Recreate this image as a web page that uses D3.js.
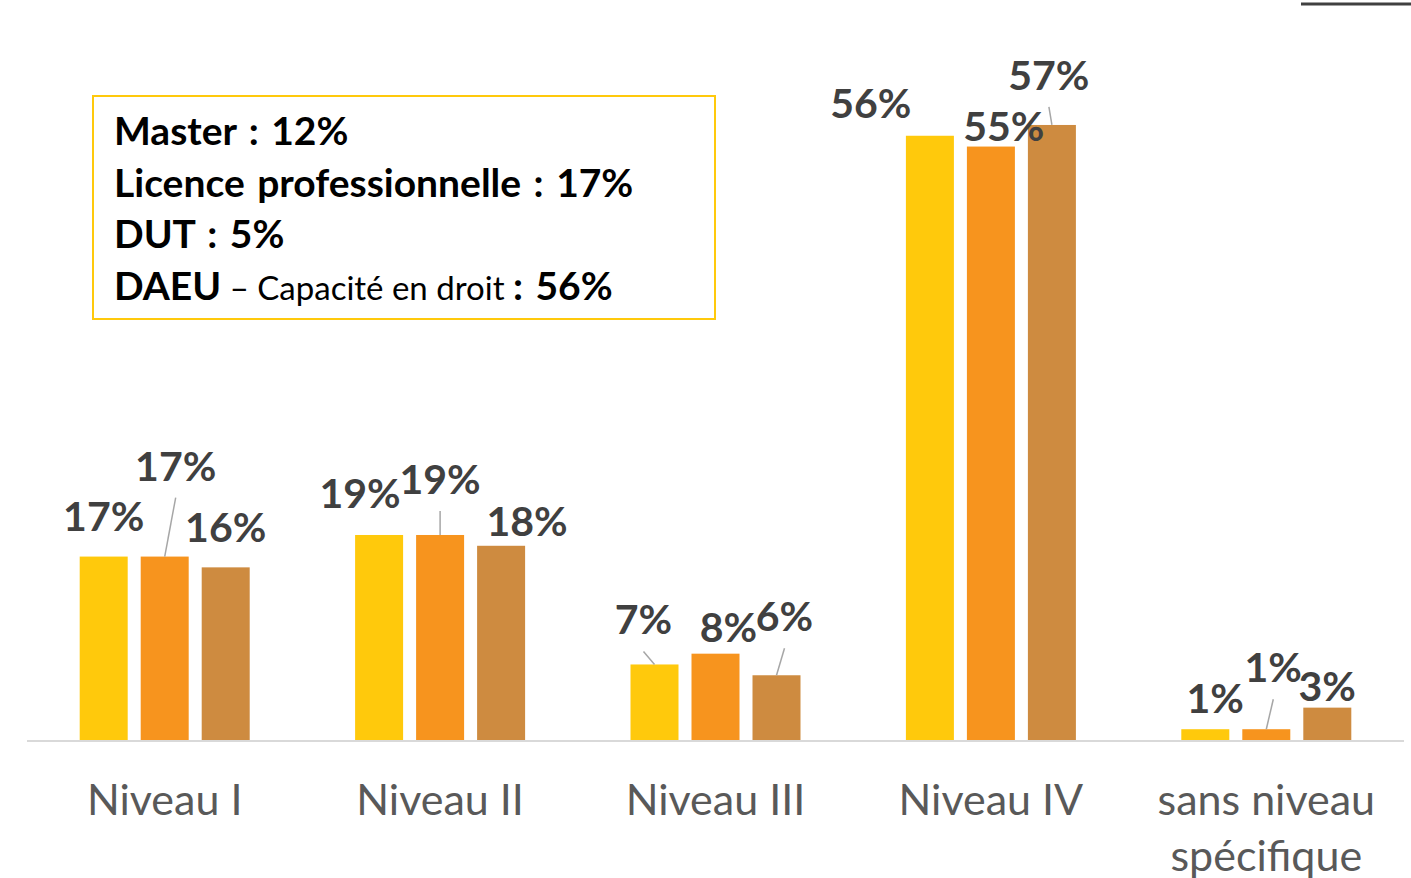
<!DOCTYPE html>
<html>
<head>
<meta charset="utf-8">
<script src="https://d3js.org/d3.v7.min.js"></script>
<style>
  body { margin: 0; background: #fff; overflow: hidden; }
  svg { display: block; font-family: Lato, "Open Sans", sans-serif; }
</style>
</head>
<body>
<svg width="1411" height="878"></svg>
<script>
// data
var categories = ["Niveau I", "Niveau II", "Niveau III", "Niveau IV", "sans niveau spécifique"];
var series = ["s1", "s2", "s3"];
var serie1 = [17, 19, 7, 56, 1];
var serie2 = [17, 19, 8, 55, 1];
var serie3 = [16, 18, 6, 57, 3];
var colors = ["#FFC90C", "#F7941E", "#CE8B40"];
var boxLines = [
  [["Master : 12%", true]],
  [["Licence professionnelle : 17%", true]],
  [["DUT : 5%", true]],
  [["DAEU", true], [" \u2013 Capacité en droit ", false], [": 56%", true]]
];

// label nudges (px) as Excel placed them by hand, [dx, dy] per category / serie
var nudge = [
  [[0, -18], [11, -68], [0, -17]],
  [[-19, -19], [0, -33], [26, -2]],
  [[-11, -22], [13, -4], [8, -36]],
  [[-59, -10], [13, 2], [-3, -27]],
  [[10, -8], [7, -39], [0, 1]]
];

var svg = d3.select("svg");
var baseY = 740;

var x0 = d3.scaleBand().domain(categories).range([27, 1404]);
var x1 = d3.scaleBand().domain(series)
  .range([(x0.bandwidth() - 170) / 2, (x0.bandwidth() + 170) / 2])
  .paddingInner(13 / 61);
var y = d3.scaleLinear().domain([0, 60]).range([baseY, baseY - 647.4]);

var values = [serie1, serie2, serie3];
var rows = [];
categories.forEach(function(c, i) {
  series.forEach(function(s, j) {
    rows.push({ cat: c, ser: s, i: i, j: j, v: values[j][i] });
  });
});

// bars
svg.append("g").selectAll("rect")
  .data(rows)
  .enter().append("rect")
  .attr("x", function(d) { return x0(d.cat) + x1(d.ser); })
  .attr("y", function(d) { return y(d.v); })
  .attr("width", x1.bandwidth())
  .attr("height", function(d) { return baseY - y(d.v); })
  .attr("fill", function(d) { return colors[d.j]; });

// axis line
svg.append("line")
  .attr("x1", 27).attr("x2", 1404)
  .attr("y1", baseY + 1).attr("y2", baseY + 1)
  .attr("stroke", "#d9d9d9").attr("stroke-width", 2);

// leader lines + labels
rows.forEach(function(d) {
  var bx = x0(d.cat) + x1(d.ser) + x1.bandwidth() / 2;
  var by = y(d.v);
  var n = nudge[d.i][d.j];
  var lx = bx + n[0];
  var ly = by - 8 + n[1];
  if (by - (ly + 17) > 12) {
    svg.append("line")
      .attr("x1", lx).attr("y1", ly + 17)
      .attr("x2", bx).attr("y2", by)
      .attr("stroke", "#a6a6a6").attr("stroke-width", 1.5);
  }
  svg.append("text")
    .attr("x", lx).attr("y", ly)
    .attr("text-anchor", "middle")
    .attr("font-size", 41).attr("font-weight", "bold")
    .attr("fill", "#404040")
    .text(d.v + "%");
});

// category labels (last one runs off the bottom, as in the slide)
var cat = svg.append("g").selectAll("text")
  .data(categories)
  .enter().append("text")
  .attr("x", function(d) { return x0(d) + x0.bandwidth() / 2; })
  .attr("y", 815)
  .attr("text-anchor", "middle")
  .attr("font-size", 43)
  .attr("fill", "#595959");
cat.each(function(d) {
  var t = d3.select(this);
  var parts = d === "sans niveau spécifique" ? ["sans niveau", "spécifique"] : [d];
  parts.forEach(function(p, k) {
    t.append("tspan")
      .attr("x", x0(d) + x0.bandwidth() / 2)
      .attr("dy", k === 0 ? 0 : 56)
      .text(p);
  });
});

// text box
svg.append("rect")
  .attr("x", 93).attr("y", 96)
  .attr("width", 622).attr("height", 223)
  .attr("fill", "none")
  .attr("stroke", "#FFC90C").attr("stroke-width", 2);

boxLines.forEach(function(line, k) {
  var t = svg.append("text")
    .attr("x", 114).attr("y", 145 + k * 51.5)
    .attr("fill", "#000");
  line.forEach(function(seg) {
    t.append("tspan")
      .attr("font-weight", seg[1] ? "bold" : "normal")
      .attr("font-size", seg[1] ? 39 : 33)
      .attr("word-spacing", seg[1] ? 3 : 0)
      .text(seg[0]);
  });
});

// slide decoration at top right
svg.append("line")
  .attr("x1", 1301).attr("x2", 1411)
  .attr("y1", 4).attr("y2", 4)
  .attr("stroke", "#404040").attr("stroke-width", 3);
</script>
</body>
</html>
